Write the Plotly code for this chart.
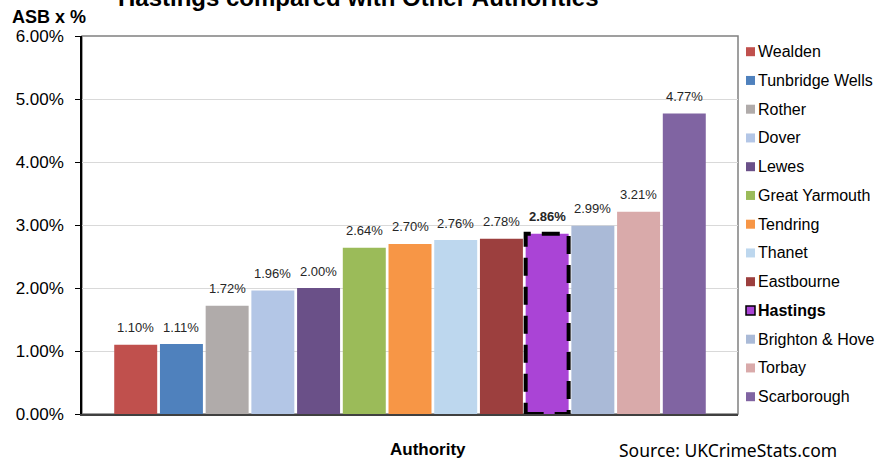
import plotly.graph_objects as go

authorities = ["Wealden", "Tunbridge Wells", "Rother", "Dover", "Lewes", "Great Yarmouth",
               "Tendring", "Thanet", "Eastbourne", "Hastings", "Brighton & Hove", "Torbay",
               "Scarborough"]
asb_pct = [1.10, 1.11, 1.72, 1.96, 2.00, 2.64, 2.70, 2.76, 2.78, 2.86, 2.99, 3.21, 4.77]
colors = ["#C0504D", "#4F81BD", "#B0ABAA", "#B3C6E6", "#6A5088", "#9BBB59", "#F79646",
          "#BDD7EE", "#9C3F3E", "#AA44D6", "#AABAD7", "#D9AAAA", "#8064A2"]
highlight = "Hastings"
y_ticks = [0, 1, 2, 3, 4, 5, 6]
y_tick_labels = [f"{t:.2f}%" for t in y_ticks]

FONT = "Liberation Sans, Arial, sans-serif"
W, H = 877, 463
L, R, T, B = 82, 139, 36, 49
PW, PH = W - L - R, H - T - B
BAR_W = 0.94

fig = go.Figure()
annotations = []
shapes = []

for i, (name, v, c) in enumerate(zip(authorities, asb_pct, colors)):
    fig.add_trace(go.Bar(x=[i], y=[v], name=name, width=BAR_W,
                         marker=dict(color=c, line=dict(width=0)), showlegend=False))
    bold = name == highlight
    annotations.append(dict(x=i, y=v, xref="x", yref="y", text=(f"<b>{v:.2f}%</b>" if bold else f"{v:.2f}%"),
                            showarrow=False, xanchor="center", yanchor="middle", yshift=17,
                            font=dict(family=FONT, size=13, color="#262626")))
    if bold:
        shapes.append(dict(type="rect", xref="x", yref="y", x0=i - BAR_W / 2, x1=i + BAR_W / 2,
                           y0=0, y1=v, line=dict(color="black", width=4, dash="18px,11px"),
                           fillcolor="rgba(0,0,0,0)", layer="above"))
    # manual legend
    ypx = 51.7 + 28.75 * i
    yp = (T + PH - ypx) / PH
    x0p = (746 - L) / PW
    x1p = (755 - L) / PW
    hp = 4.5 / PH
    shapes.append(dict(type="rect", xref="paper", yref="paper", x0=x0p, x1=x1p, y0=yp - hp, y1=yp + hp,
                       fillcolor=c, line=dict(color="black" if bold else c, width=1.5 if bold else 0)))
    annotations.append(dict(x=(756 - L) / PW, y=yp, xref="paper", yref="paper", xanchor="left",
                            yanchor="middle", showarrow=False,
                            text=(f"<b>{name}</b>" if bold else name),
                            font=dict(family=FONT, size=16, color="black")))

# plot area border
shapes.append(dict(type="rect", xref="paper", yref="paper", x0=0, x1=1, y0=0, y1=1,
                   line=dict(color="#808080", width=1.5), layer="below"))

annotations += [
    dict(x=(358 - L) / PW, y=1, xref="paper", yref="paper", xanchor="center", yanchor="bottom", yshift=23,
         showarrow=False, text="<b>Hastings compared with Other Authorities</b>",
         font=dict(family=FONT, size=24, color="black")),
    dict(x=(10 - L) / PW, y=1, xref="paper", yref="paper", xanchor="left", yanchor="middle", yshift=19,
         showarrow=False, text="<b>ASB x %</b>", font=dict(family=FONT, size=18, color="black")),
    dict(x=(428 - L) / PW, y=0, xref="paper", yref="paper", xanchor="center", yanchor="middle", yshift=-35,
         showarrow=False, text="<b>Authority</b>", font=dict(family=FONT, size=17, color="black")),
    dict(x=(728 - L) / PW, y=0, xref="paper", yref="paper", xanchor="center", yanchor="middle", yshift=-36,
         showarrow=False, text="Source: UKCrimeStats.com",
         font=dict(family="Noto Sans, sans-serif", size=17.5, color="black")),
]

fig.update_layout(
    width=W, height=H, margin=dict(l=L, r=R, t=T, b=B),
    paper_bgcolor="white", plot_bgcolor="white",
    barmode="overlay", showlegend=False,
    annotations=annotations, shapes=shapes,
    xaxis=dict(range=[-1.175, 13.175], showticklabels=False, ticks="", showgrid=False,
               zeroline=False, showline=True, linecolor="#404040", linewidth=2),
    yaxis=dict(range=[0, 6], tickmode="array", tickvals=y_ticks, ticktext=y_tick_labels,
               tickfont=dict(family=FONT, size=17, color="black"),
               ticks="outside", ticklen=5, tickcolor="black", ticklabelstandoff=8,
               showgrid=True, gridcolor="#D9D9D9", gridwidth=1, zeroline=False,
               showline=True, linecolor="black", linewidth=1.5),
)

fig.write_html("out.html")
